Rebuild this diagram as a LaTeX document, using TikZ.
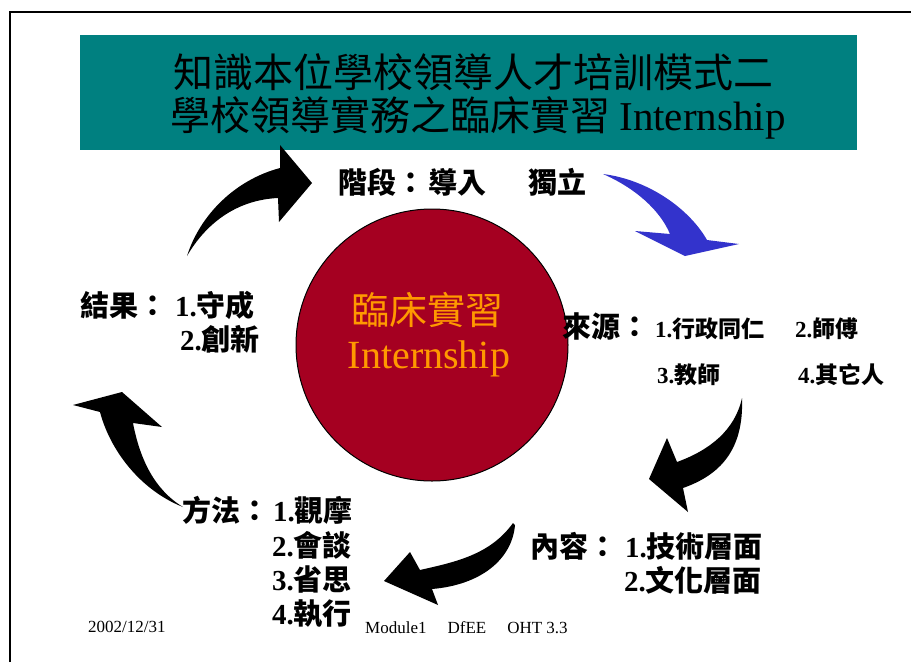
\documentclass[tikz,border=0pt]{standalone}
\usepackage{fontspec}
\setmainfont{Liberation Serif}
\newfontfamily\cjk{Noto Sans CJK TC}
\definecolor{teal1}{HTML}{008080}
\definecolor{dred}{HTML}{A50021}
\definecolor{orng}{HTML}{FF9900}
\definecolor{blu}{HTML}{3333CC}
\newcommand\nb[1]{{\rmfamily\bfseries #1}}
\tikzset{
  lbl/.style={anchor=base west, inner sep=0pt, font=\cjk\bfseries\fontsize{29}{32}\selectfont},
  slbl/.style={anchor=base west, inner sep=0pt, font=\cjk\bfseries\fontsize{23}{26}\selectfont},
  foot/.style={anchor=base west, inner sep=0pt, font=\rmfamily\fontsize{17}{19}\selectfont},
}
\begin{document}
\begin{tikzpicture}[x=1pt,y=-1pt]
\useasboundingbox (0,0) rectangle (911,662);
\fill[white] (0,0) rectangle (911,662);
% frame
\draw[line width=2pt] (10,662) -- (10,12) -- (911,12);
% title
\fill[teal1] (80,35) rectangle (857,150);
\node[inner sep=0pt, font=\cjk\fontsize{40}{42}\selectfont] (t1) at (473,72) {知識本位學校領導人才培訓模式二};
\node[inner sep=0pt, font=\cjk\fontsize{40}{42}\selectfont] (t2) at (478,118) {學校領導實務之臨床實習 {\rmfamily\fontsize{41}{43}\selectfont Internship}};
% circle
\node[circle, draw=black, line width=1pt, fill=dred, minimum size=272pt, inner sep=0pt] (c) at (432,345) {};
\node[inner sep=0pt, text=orng, font=\cjk\fontsize{38}{40}\selectfont] (c1) at (427,310) {臨床實習};
\node[inner sep=0pt, text=orng, font=\rmfamily\fontsize{40}{42}\selectfont] (c2) at (429,359) {Internship};
% arrows
\fill[black] (187,256) .. controls (200,215) and (235,180) .. (280,168) -- (280,145) -- (312,183) -- (279,222) -- (278,198) .. controls (235,200) and (205,225) .. cycle;
\fill[blu] (603,174) .. controls (650,180) and (690,210) .. (707,240) -- (739,244) -- (685,256) -- (635,231) -- (670,234) .. controls (660,210) and (635,188) .. cycle;
\fill[black] (742,398) .. controls (744,450) and (720,475) .. (683,488) -- (688,512) -- (649,479) -- (667,438) -- (677,462) .. controls (710,450) and (735,430) .. cycle;
\fill[black] (513,523) .. controls (490,555) and (455,562) .. (420,570) -- (410,552) -- (384,581) -- (438,605) -- (432,589) .. controls (480,585) and (512,560) .. (515,525) -- cycle;
\fill[black] (73,405) -- (122,392) -- (162,427) -- (133,423) .. controls (140,460) and (155,490) .. (183,507) .. controls (140,490) and (110,450) .. (100,412) -- cycle;
% labels
\node[lbl] (stage) at (338,193) {階段：\hspace{3pt}導入\hspace{42pt}獨立};
\node[lbl] (res1) at (80,316) {結果：\hspace{8pt}\nb{1.}守成};
\node[lbl] (res2) at (180,350) {\nb{2.}創新};
\node[lbl] (src0) at (562,337) {來源：};
\node[slbl] (src1) at (655,337) {\nb{1.}行政同仁};
\node[slbl] (src2) at (795,337) {\nb{2.}師傅};
\node[slbl] (src3) at (657,383) {\nb{3.}教師};
\node[slbl] (src4) at (798,383) {\nb{4.}其它人};
\node[lbl] (m1) at (182,521) {方法：\hspace{4pt}\nb{1.}觀摩};
\node[lbl] (m2) at (272,556) {\nb{2.}會談};
\node[lbl] (m3) at (272,590) {\nb{3.}省思};
\node[lbl] (m4) at (272,624) {\nb{4.}執行};
\node[lbl] (k1) at (530,557) {內容：\hspace{8pt}\nb{1.}技術層面};
\node[lbl] (k2) at (624,591) {\nb{2.}文化層面};
% footer
\node[foot] (date) at (88,632) {2002/12/31};
\node[foot] (mod) at (365,633) {Module1\hspace{21pt}DfEE\hspace{21pt}OHT 3.3};
\end{tikzpicture}
\end{document}
